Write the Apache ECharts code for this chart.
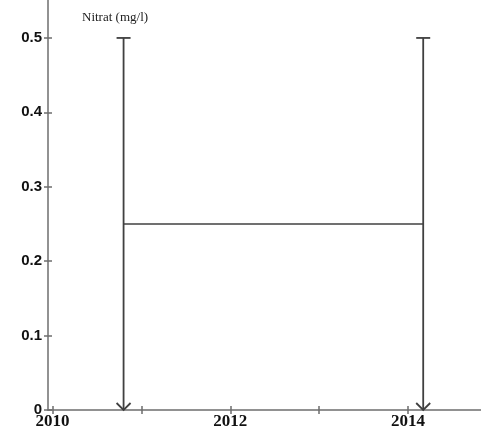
<!DOCTYPE html>
<html><head><meta charset="utf-8">
<script src="https://cdn.jsdelivr.net/npm/echarts@6/dist/echarts.min.js"></script>
<style>html,body{margin:0;padding:0;background:#fff}#c{width:481px;height:433px}</style>
</head><body><div id="c"></div>
<script>
const title = 'Nitrat (mg/l)';
const xPos = [2010.8, 2014.17];
const meanVals = [0.25, 0.25];
const lowVals = [0, 0];
const highVals = [0.5, 0.5];
const xTicks = [2010, 2011, 2012, 2013, 2014];
const xLabels = [2010, 2012, 2014];
const yTicks = [0, 0.1, 0.2, 0.3, 0.4, 0.5];

const chart = echarts.init(document.getElementById('c'));
const axisCol = '#6e6e6e';
const lineCol = '#404040';
const xMin = 2009.95, xMax = 2014.82;
function xa(inside, showLabel, showLine) {
  return {
    type: 'value', min: xMin, max: xMax, position: 'bottom',
    axisLine: {show: showLine, lineStyle: {color: axisCol, width: 1.5}},
    axisTick: {show: true, inside: inside, length: 4, customValues: xTicks, lineStyle: {color: axisCol, width: 1.5}},
    axisLabel: {show: showLabel, customValues: xLabels, margin: 3, color: '#111',
      fontFamily: 'Liberation Serif', fontWeight: 'bold', fontSize: 17,
      formatter: v => String(Math.round(v))},
    splitLine: {show: false}
  };
}
function ya(inside, showLabel, showLine) {
  return {
    type: 'value', min: 0, max: 0.551, position: 'left',
    axisLine: {show: showLine, lineStyle: {color: axisCol, width: 1.5}},
    axisTick: {show: true, inside: inside, length: 4, customValues: yTicks, lineStyle: {color: axisCol, width: 1.5}},
    axisLabel: {show: showLabel, customValues: yTicks, margin: 6, color: '#111',
      fontFamily: 'Liberation Sans', fontWeight: 'bold', fontSize: 15,
      formatter: v => (Math.round(v * 10) / 10).toString()},
    splitLine: {show: false}
  };
}
const barData = xPos.map((x, i) => [x, lowVals[i], highVals[i]]);
chart.setOption({
  animation: false,
  title: {text: title, left: 77, top: 6,
    textStyle: {fontFamily: 'Liberation Serif', fontWeight: 'normal', fontSize: 13, color: '#222'}},
  grid: {left: 48, right: 0, top: 0, bottom: 23, containLabel: false},
  xAxis: [xa(false, true, true), xa(true, false, false)],
  yAxis: [ya(false, true, true), ya(true, false, false)],
  series: [
    {type: 'line', xAxisIndex: 0, yAxisIndex: 0, data: xPos.map((x, i) => [x, meanVals[i]]),
      showSymbol: false, symbol: 'none', lineStyle: {color: lineCol, width: 1.5}},
    {type: 'custom', xAxisIndex: 0, yAxisIndex: 0, data: barData,
      renderItem: function (params, api) {
        const top = api.coord([api.value(0), api.value(2)]);
        const bot = api.coord([api.value(0), api.value(1)]);
        const st = {stroke: lineCol, lineWidth: 1.8, fill: null};
        const w = 7;
        return {type: 'group', children: [
          {type: 'line', shape: {x1: top[0], y1: top[1], x2: bot[0], y2: bot[1]}, style: st},
          {type: 'line', shape: {x1: top[0] - w, y1: top[1], x2: top[0] + w, y2: top[1]}, style: st},
          {type: 'polyline', shape: {points: [[bot[0] - 7, bot[1] - 7], [bot[0], bot[1]], [bot[0] + 7, bot[1] - 7]]}, style: st}
        ]};
      }}
  ]
});
</script></body></html>
